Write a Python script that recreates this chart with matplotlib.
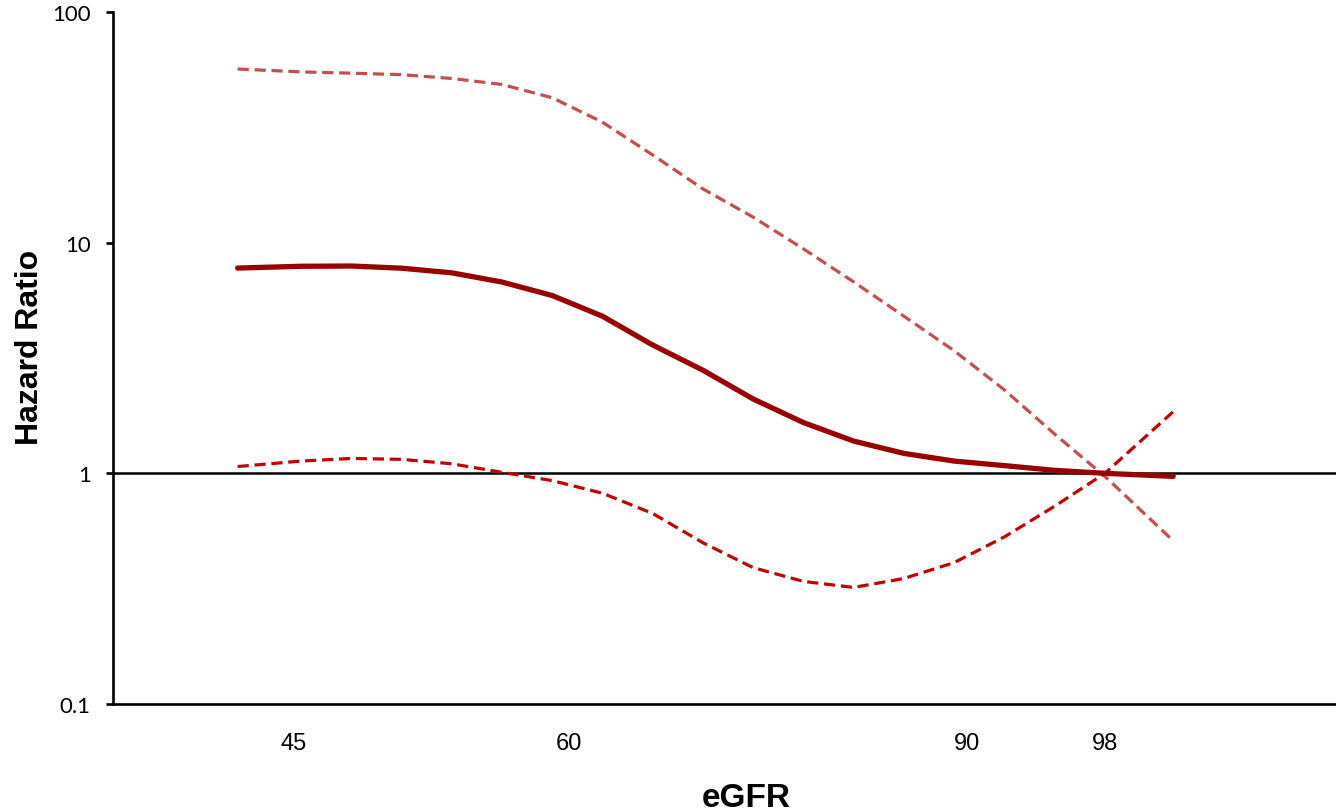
import matplotlib
matplotlib.use('Agg')
import matplotlib.pyplot as plt

# horizontal position of each sample (axis runs 0..1217), eGFR is not linear on this axis
x_pos = [124, 187, 237, 287, 337, 387, 437, 487, 537, 587, 637, 687, 737, 787, 837, 887, 937, 987, 1055]
hr = [7.76, 7.9, 7.92, 7.75, 7.4, 6.75, 5.9, 4.8, 3.6, 2.8, 2.1, 1.66, 1.38, 1.22, 1.13, 1.08, 1.03, 1.0, 0.97]
upper = [56.6, 55.0, 54.3, 53.5, 51.5, 48.5, 42.5, 33.3, 24.0, 17.1, 12.9, 9.4, 6.76, 4.8, 3.4, 2.3, 1.48, 0.97, 0.51]
lower = [1.07, 1.13, 1.16, 1.15, 1.10, 1.01, 0.93, 0.82, 0.67, 0.50, 0.39, 0.34, 0.32, 0.35, 0.41, 0.53, 0.72, 1.0, 1.85]

tick_pos = [180, 454, 850, 987]
tick_labels = ['45', '60', '90', '98']

fig = plt.figure(figsize=(13.36, 8.12), dpi=100)
ax = fig.add_axes([0.0846, 0.1318, 0.9154, 0.8522])

ax.set_yscale('log')
ax.set_ylim(0.1, 100)
ax.set_xlim(0, 1217)

ax.axhline(1, color='black', lw=1.8, zorder=1)
ax.plot(x_pos, upper, color='#C0504D', lw=2.3, dashes=(3.5, 1.8), zorder=2)
ax.plot(x_pos, lower, color='#C00000', lw=2.3, dashes=(3.5, 1.8), zorder=2)
ax.plot(x_pos, hr, color='#990000', lw=3.8, zorder=3, solid_capstyle='round')

ax.spines['top'].set_visible(False)
ax.spines['right'].set_visible(False)
ax.spines['left'].set_linewidth(1.9)
ax.spines['bottom'].set_linewidth(1.9)

ax.set_yticks([0.1, 1, 10, 100])
ax.set_yticklabels(['0.1', '1', '10', '100'], fontsize=16, family='Lato')
ax.yaxis.set_minor_locator(matplotlib.ticker.NullLocator())
ax.tick_params(axis='y', length=5, width=1.9, pad=11)

ax.set_xticks(tick_pos)
ax.set_xticklabels(tick_labels, fontsize=17, family='Liberation Sans')
ax.tick_params(axis='x', length=0, pad=20)

ax.set_xlabel('eGFR', fontsize=24, fontweight='bold', family='Liberation Sans', labelpad=20)
ax.set_ylabel('Hazard Ratio', fontsize=23, fontweight='bold', family='Liberation Sans', labelpad=5)
ax.xaxis.label.set_x(0.518)
ax.yaxis.label.set_y(0.517)

plt.savefig('out.png', dpi=100)
